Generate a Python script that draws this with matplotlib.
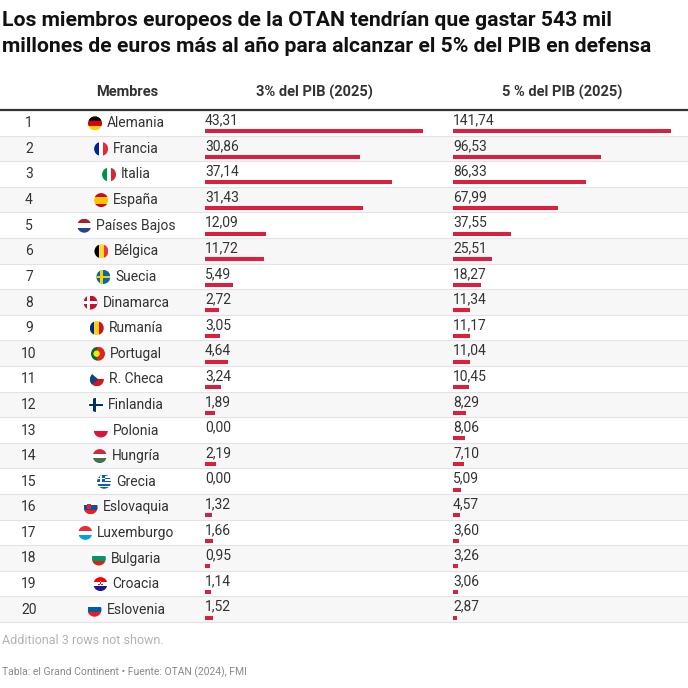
import numpy as np
import matplotlib
matplotlib.use("Agg")
import matplotlib.pyplot as plt
from matplotlib.patches import Rectangle, Circle, Polygon

plt.rcParams['font.family'] = ['Roboto', 'DejaVu Sans']

# data
countries = ["Alemania", "Francia", "Italia", "España", "Países Bajos", "Bélgica",
             "Suecia", "Dinamarca", "Rumanía", "Portugal", "R. Checa", "Finlandia",
             "Polonia", "Hungría", "Grecia", "Eslovaquia", "Luxemburgo", "Bulgaria",
             "Croacia", "Eslovenia"]
flag_codes = ["de", "fr", "it", "es", "nl", "be", "se", "dk", "ro", "pt", "cz", "fi",
              "pl", "hu", "gr", "sk", "lu", "bg", "hr", "si"]
pib3 = [43.31, 30.86, 37.14, 31.43, 12.09, 11.72, 5.49, 2.72, 3.05, 4.64, 3.24, 1.89,
        0.00, 2.19, 0.00, 1.32, 1.66, 0.95, 1.14, 1.52]
pib5 = [141.74, 96.53, 86.33, 67.99, 37.55, 25.51, 18.27, 11.34, 11.17, 11.04, 10.45,
        8.29, 8.06, 7.10, 5.09, 4.57, 3.60, 3.26, 3.06, 2.87]
headers = ["Membres", "3% del PIB (2025)", "5 % del PIB (2025)"]

RED = "#dc1f3d"
TXT = "#333333"

# stripe flags: (orientation, fractions, colors)
stripes = {
    "de": ("h", [1, 1, 1], ["#000000", "#dd0000", "#ffce00"]),
    "fr": ("v", [1, 1, 1], ["#002395", "#ffffff", "#ed2939"]),
    "it": ("v", [1, 1, 1], ["#009246", "#ffffff", "#ce2b37"]),
    "es": ("h", [1, 2, 1], ["#c60b1e", "#ffc400", "#c60b1e"]),
    "nl": ("h", [1, 1, 1], ["#ae1c28", "#ffffff", "#21468b"]),
    "be": ("v", [1, 1, 1], ["#000000", "#fdda24", "#ef3340"]),
    "ro": ("v", [1, 1, 1], ["#002b7f", "#fcd116", "#ce1126"]),
    "pt": ("v", [2, 3], ["#046a38", "#da291c"]),
    "pl": ("h", [1, 1], ["#ffffff", "#dc143c"]),
    "hu": ("h", [1, 1, 1], ["#ce2939", "#ffffff", "#477050"]),
    "sk": ("h", [1, 1, 1], ["#ffffff", "#0b4ea2", "#ee1c25"]),
    "lu": ("h", [1, 1, 1], ["#ed2939", "#ffffff", "#00a1de"]),
    "bg": ("h", [1, 1, 1], ["#ffffff", "#00966e", "#d62612"]),
    "hr": ("h", [1, 1, 1], ["#ff0000", "#ffffff", "#171796"]),
    "si": ("h", [1, 1, 1], ["#ffffff", "#005da4", "#ed1c24"]),
    "cz": ("h", [1, 1], ["#ffffff", "#d7141a"]),
}
crosses = {
    "se": ("#006aa7", "#fecc00"),
    "dk": ("#c8102e", "#ffffff"),
    "fi": ("#ffffff", "#002f6c"),
}


def draw_flag(ax, cx, cy, code, r=7):
    clip = Circle((cx, cy), r, transform=ax.transData)
    parts = []
    x0, y0 = cx - r, cy - r
    if code in stripes:
        ori, fr, cols = stripes[code]
        fr = np.array(fr) / sum(fr)
        pos = 0
        for f, c in zip(fr, cols):
            if ori == "h":
                parts.append(Rectangle((x0, y0 + pos * 2 * r), 2 * r, f * 2 * r, color=c))
            else:
                parts.append(Rectangle((x0 + pos * 2 * r, y0), f * 2 * r, 2 * r, color=c))
            pos += f
        if code == "cz":
            parts.append(Polygon([(x0, y0), (cx + 0.2 * r, cy), (x0, y0 + 2 * r)], color="#11457e"))
        if code == "pt":
            parts.append(Circle((x0 + 0.8 * r, cy), 0.45 * r, color="#ffe900"))
        if code == "hr":
            # small checkered shield
            s = 0.22 * r
            for a in range(3):
                for b in range(3):
                    parts.append(Rectangle((cx - 1.5 * s + a * s, cy - 0.5 * r + b * s), s, s,
                                           color="#ff0000" if (a + b) % 2 == 0 else "#ffffff"))
        if code == "sk":
            parts.append(Rectangle((x0 + 0.45 * r, cy - 0.5 * r), 0.6 * r, 0.8 * r, color="#ee1c25"))
    elif code in crosses:
        bg, fg = crosses[code]
        parts.append(Rectangle((x0, y0), 2 * r, 2 * r, color=bg))
        parts.append(Rectangle((x0, cy - 0.2 * r), 2 * r, 0.4 * r, color=fg))
        parts.append(Rectangle((cx - 0.45 * r, y0), 0.4 * r, 2 * r, color=fg))
    elif code == "gr":
        for k in range(9):
            parts.append(Rectangle((x0, y0 + k * 2 * r / 9), 2 * r, 2 * r / 9,
                                   color="#0d5eaf" if k % 2 == 0 else "#ffffff"))
        parts.append(Rectangle((x0, y0), r * 1.1, r * 1.1, color="#0d5eaf"))
        parts.append(Rectangle((x0, y0 + 0.44 * r), r * 1.1, 0.22 * r, color="#ffffff"))
        parts.append(Rectangle((x0 + 0.44 * r, y0), 0.22 * r, r * 1.1, color="#ffffff"))
    for p in parts:
        p.set_linewidth(0)
        ax.add_patch(p)
        p.set_clip_path(clip)


fig = plt.figure(figsize=(6.88, 6.88), dpi=100)
ax = fig.add_axes([0, 0, 1, 1])
ax.set_xlim(0, 688)
ax.set_ylim(688, 0)
ax.axis("off")

top = 110
rh = 25.6
n = len(countries)

# title
ax.text(2, 21, "Los miembros europeos de la OTAN tendrían que gastar 543 mil",
        fontsize=15.2, fontweight="bold", color="#111111", va="center", ha="left")
ax.text(2, 46, "millones de euros más al año para alcanzar el 5% del PIB en defensa",
        fontsize=15.2, fontweight="bold", color="#111111", va="center", ha="left")

# header
ax.text(127, 92, headers[0], fontsize=10.5, fontweight="bold", color=TXT, ha="center", va="center")
ax.text(314, 92, headers[1], fontsize=10.5, fontweight="bold", color=TXT, ha="center", va="center")
ax.text(562, 92, headers[2], fontsize=10.5, fontweight="bold", color=TXT, ha="center", va="center")
ax.plot([0, 688], [top - 0.5, top - 0.5], color="#333333", lw=1.6, solid_capstyle="butt")

# rows
renderer = fig.canvas.get_renderer()
for i in range(n):
    y = top + i * rh
    if i % 2 == 1:
        ax.add_patch(Rectangle((0, y), 688, rh, color="#f7f7f7", lw=0, zorder=0))
    ax.plot([0, 688], [y + rh, y + rh], color="#e3e3e3", lw=0.8, zorder=1)
    cy = y + rh / 2 + 0.5
    ax.text(29, cy, str(i + 1), fontsize=10, color=TXT, ha="center", va="center")
    t = ax.text(0, cy, countries[i], fontsize=10, color=TXT, ha="left", va="center")
    w = t.get_window_extent(renderer).width
    left = 126.5 - (19 + w) / 2
    t.set_x(left + 19)
    draw_flag(ax, left + 7, cy, flag_codes[i])
    ax.text(205, y + rh * 0.4, f"{pib3[i]:.2f}".replace(".", ","), fontsize=10,
            color=TXT, ha="left", va="center")
    ax.text(453, y + rh * 0.4, f"{pib5[i]:.2f}".replace(".", ","), fontsize=10,
            color=TXT, ha="left", va="center")

# bars
for vals, x0 in [(pib3, 205), (pib5, 453)]:
    bax = fig.add_axes([x0 / 688, (688 - (top + n * rh)) / 688, 218 / 688, n * rh / 688])
    bax.set_xlim(0, max(vals))
    bax.set_ylim(n, 0)
    bax.barh(np.arange(n) + 0.83, vals, height=0.16, color=RED)
    bax.axis("off")

# footer
ax.text(2, 640, "Additional 3 rows not shown.", fontsize=9, color="#b3b3b3", ha="left", va="center")
ax.text(2, 672, "Tabla: el Grand Continent • Fuente: OTAN (2024), FMI", fontsize=7.5,
        color="#8a8a8a", ha="left", va="center")

fig.savefig("out.png", dpi=100)
